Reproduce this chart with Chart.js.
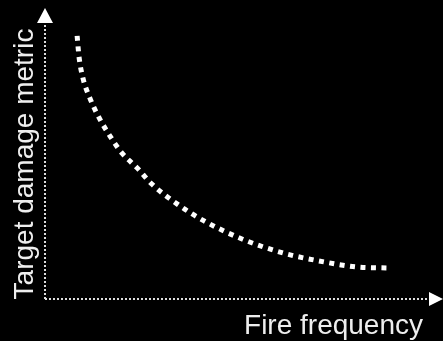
<!DOCTYPE html>
<html>
<head>
<meta charset="utf-8">
<script src="https://cdn.jsdelivr.net/npm/chart.js@4"></script>
<style>
  html, body { margin: 0; padding: 0; background: #000; }
  #wrap { width: 443px; height: 341px; }
</style>
</head>
<body>
<div id="wrap"><canvas id="chart"></canvas></div>
<script>
// frequência de fogo (x) e métrica de dano (y), escala relativa 0-10
const freqValues = [0.83, 0.88, 0.98, 1.16, 1.40, 1.68, 1.99, 2.38, 2.76, 3.41, 4.11, 5.09, 6.15, 7.21, 8.04, 8.86];
const damageValues = [9.43, 8.67, 7.92, 7.20, 6.49, 5.84, 5.23, 4.70, 4.12, 3.41, 2.80, 2.15, 1.65, 1.33, 1.15, 1.11];
const xLabel = "Fire frequency";
const yLabel = "Target damage metric";

const fonte = '28px "Liberation Sans", Arial, sans-serif';

// fundo preto, eixos pontilhados com setas e os rótulos
const eixosPlugin = {
  id: "eixos",
  beforeDraw(chart) {
    const ctx = chart.ctx;
    ctx.save();
    ctx.fillStyle = "#000";
    ctx.fillRect(0, 0, chart.width, chart.height);
    ctx.restore();
  },
  afterDraw(chart) {
    const ctx = chart.ctx;
    const a = chart.chartArea;
    const x0 = chart.scales.x.left;
    const y0 = chart.scales.y.bottom;
    ctx.save();
    // eixos pontilhados (o border do Chart.js não aceita tracejado)
    ctx.strokeStyle = "#ddd";
    ctx.lineWidth = 2;
    ctx.setLineDash([2, 2]);
    ctx.beginPath();
    ctx.moveTo(x0, y0);
    ctx.lineTo(x0, a.top);
    ctx.moveTo(x0, y0);
    ctx.lineTo(a.right, y0);
    ctx.stroke();
    ctx.setLineDash([]);

    ctx.fillStyle = "#fff";
    // seta do eixo y
    ctx.beginPath();
    ctx.moveTo(x0, a.top - 12);
    ctx.lineTo(x0 - 8, a.top + 3);
    ctx.lineTo(x0 + 8, a.top + 3);
    ctx.closePath();
    ctx.fill();
    // seta do eixo x
    ctx.beginPath();
    ctx.moveTo(a.right + 11, y0);
    ctx.lineTo(a.right - 3, y0 - 7);
    ctx.lineTo(a.right - 3, y0 + 7);
    ctx.closePath();
    ctx.fill();

    ctx.fillStyle = "#eee";
    ctx.font = fonte;
    ctx.textAlign = "right";
    ctx.textBaseline = "alphabetic";
    ctx.fillText(xLabel, 423, 334);

    ctx.translate(33, 164);
    ctx.rotate(-Math.PI / 2);
    ctx.textAlign = "center";
    ctx.fillText(yLabel, 0, 0);
    ctx.restore();
  }
};

const eixo = {
  type: "linear",
  min: 0,
  max: 10,
  ticks: { display: false },
  grid: { display: false, drawTicks: false },
  border: { display: false }
};

const ctx = document.getElementById("chart").getContext("2d");
new Chart(ctx, {
  type: "line",
  data: {
    datasets: [{
      data: freqValues.map((x, i) => ({ x: x, y: damageValues[i] })),
      borderColor: "#fff",
      borderWidth: 5,
      borderDash: [5, 5.5],
      borderCapStyle: "butt",
      cubicInterpolationMode: "monotone",
      pointRadius: 0,
      fill: false
    }]
  },
  options: {
    responsive: true,
    maintainAspectRatio: false,
    animation: false,
    layout: { padding: { left: 45, right: 11, top: 20, bottom: 42 } },
    plugins: {
      legend: { display: false },
      tooltip: { enabled: false }
    },
    scales: {
      x: Object.assign({ position: "bottom" }, eixo),
      y: Object.assign({ position: "left" }, eixo)
    }
  },
  plugins: [eixosPlugin]
});
</script>
</body>
</html>
